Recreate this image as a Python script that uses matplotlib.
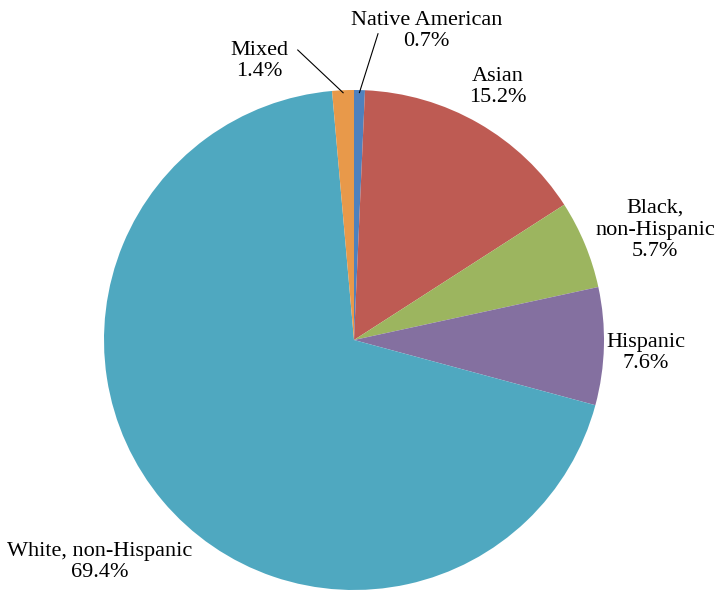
import numpy as np
import matplotlib.pyplot as plt

# Share of population by group, drawn clockwise from 12 o'clock
groups = ['Native American', 'Asian', 'Black,\nnon-Hispanic', 'Hispanic',
          'White, non-Hispanic', 'Mixed']
shares = [0.7, 15.2, 5.7, 7.6, 69.4, 1.4]
colors = ['#4F81BD', '#BE5B53', '#9CB55F', '#8470A0', '#4FA8C0', '#E8994A']

# where each label sits (data units, pie radius = 1)
label_pos = [(0.29, 1.236), (0.576, 1.012), (1.204, 0.44), (1.168, -0.052),
             (-1.016, -0.888), (-0.38, 1.116)]
# small slices get a leader line: start of line next to the text
leader_from = {0: (0.096, 1.225), 5: (-0.225, 1.16)}

plt.rcParams['font.family'] = ['Liberation Serif', 'DejaVu Serif']

fig = plt.figure(figsize=(7.17, 5.92), dpi=100)
ax = fig.add_axes([0, 0, 1, 1])

wedges, _ = ax.pie(shares, colors=colors, startangle=90, counterclock=False,
                   radius=1.0, wedgeprops=dict(linewidth=0))

for i, w in enumerate(wedges):
    txt = f"{groups[i]}\n{shares[i]:.1f}%"
    x, y = label_pos[i]
    ax.text(x, y, txt, ha='center', va='center', fontsize=16,
            linespacing=1.2, color='black')
    if i in leader_from:
        mid = np.deg2rad((w.theta1 + w.theta2) / 2)
        ax.plot([leader_from[i][0], 0.99 * np.cos(mid)],
                [leader_from[i][1], 0.99 * np.sin(mid)],
                color='black', lw=0.8)

ax.set_xlim(-1.416, 1.452)
ax.set_ylim(-1.008, 1.36)
ax.set_aspect('equal')
ax.axis('off')

fig.savefig('out.png', dpi=100)
